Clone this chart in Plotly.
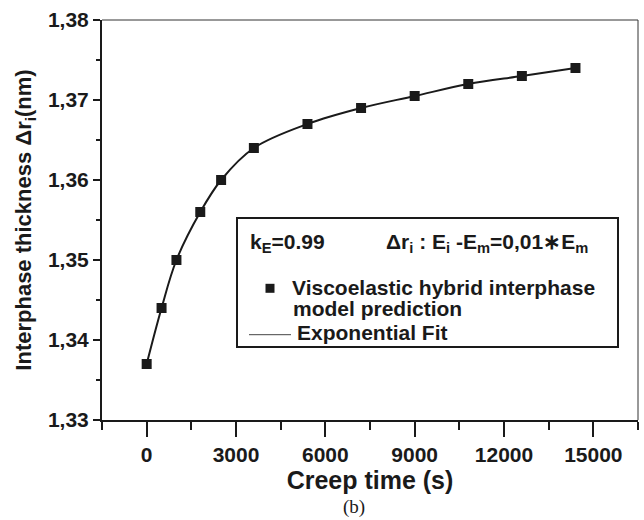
import plotly.graph_objects as go

# Data
creep_time = [0, 500, 1000, 1800, 2500, 3600, 5400, 7200, 9000, 10800, 12600, 14400]
thickness = [1.337, 1.344, 1.350, 1.356, 1.360, 1.364, 1.367, 1.369, 1.3705, 1.372, 1.373, 1.374]

x_tickvals = [0, 3000, 6000, 9000, 12000, 15000]
x_ticktext = ["0", "3000", "6000", "9000", "12000", "15000"]
y_tickvals = [1.33, 1.34, 1.35, 1.36, 1.37, 1.38]
y_ticktext = ["1,33", "1,34", "1,35", "1,36", "1,37", "1,38"]

legend_header_left = "k<sub>E</sub>=0.99"
legend_header_right = "Δr<sub>i</sub> : E<sub>i</sub> -E<sub>m</sub>=0,01∗E<sub>m</sub>"
legend_item1 = ["Viscoelastic hybrid interphase", "model prediction"]
legend_item2 = "Exponential Fit"

FONT = "Liberation Sans"
INK = "#1a1a1a"

# plot-area geometry in pixels (for placing the hand-drawn legend box)
L, R, T, B = 102, 638, 20, 420
W, H = 644, 520


def px(xp):
    return (xp - L) / (R - L)


def py(yp):
    return (B - yp) / (B - T)


fig = go.Figure()
fig.add_trace(go.Scatter(
    x=creep_time, y=thickness, mode="lines",
    line=dict(shape="spline", color=INK, width=2),
    name=legend_item2, showlegend=False,
))
fig.add_trace(go.Scatter(
    x=creep_time, y=thickness, mode="markers",
    marker=dict(symbol="square", size=10, color=INK),
    name=" ".join(legend_item1), showlegend=False,
))

lg_font = dict(family=FONT, size=21, color=INK, weight="bold")


def text_ann(text, x, y):
    return dict(text=text, xref="paper", yref="paper", x=px(x), y=py(y),
                xanchor="left", yanchor="middle", showarrow=False, font=lg_font)


annotations = [
    text_ann(legend_header_left, 248, 243),
    text_ann(legend_header_right, 384, 243),
    text_ann(legend_item1[0], 290, 287),
    text_ann(legend_item1[1], 291, 308.5),
    text_ann(legend_item2, 295, 332),
    dict(text="(b)", xref="paper", yref="paper", x=px(354), y=py(507),
         showarrow=False, xanchor="center", yanchor="middle",
         font=dict(family="Liberation Serif", size=19, color=INK)),
]

shapes = [
    # thin top / right frame lines
    dict(type="line", xref="paper", yref="paper", x0=0, x1=1, y0=1, y1=1,
         line=dict(color="#333", width=1)),
    dict(type="line", xref="paper", yref="paper", x0=1, x1=1, y0=0, y1=1,
         line=dict(color="#333", width=1)),
    # legend box
    dict(type="rect", xref="paper", yref="paper", x0=px(237), x1=px(618), y0=py(347), y1=py(218),
         line=dict(color=INK, width=2), fillcolor="rgba(0,0,0,0)"),
    # legend marker symbol
    dict(type="rect", xref="paper", yref="paper", x0=px(265.5), x1=px(274.5), y0=py(292.8), y1=py(283.8),
         line=dict(width=0), fillcolor=INK),
    # legend line symbol
    dict(type="line", xref="paper", yref="paper", x0=px(249), x1=px(291), y0=py(334.7), y1=py(334.7),
         line=dict(color="#444", width=1)),
]

fig.update_layout(
    width=W, height=H,
    margin=dict(l=L, r=W - R, t=T, b=H - B),
    paper_bgcolor="white", plot_bgcolor="white",
    font=dict(family=FONT, color=INK),
    showlegend=False,
    xaxis=dict(
        range=[-1500, 16500], showgrid=False, zeroline=False,
        tickvals=x_tickvals, ticktext=x_ticktext,
        ticks="outside", ticklen=15, tickwidth=2, tickcolor=INK,
        minor=dict(dtick=1500, tick0=0, ticks="outside", ticklen=8, tickwidth=2, tickcolor=INK),
        showline=True, linewidth=2, linecolor=INK,
        tickfont=dict(family=FONT, size=21, color=INK, weight="bold"),
        title=dict(text="Creep time (s)", font=dict(family=FONT, size=25, color=INK, weight="bold"), standoff=2),
    ),
    yaxis=dict(
        range=[1.33, 1.38], showgrid=False, zeroline=False,
        tickvals=y_tickvals, ticktext=y_ticktext,
        ticks="outside", ticklen=7, tickwidth=2, tickcolor=INK,
        minor=dict(dtick=0.005, tick0=1.33, ticks="outside", ticklen=4, tickwidth=2, tickcolor=INK),
        showline=True, linewidth=2, linecolor=INK,
        tickfont=dict(family=FONT, size=21, color=INK, weight="bold"),
        title=dict(text="Interphase thickness Δr<sub>i</sub>(nm)",
                   font=dict(family=FONT, size=22, color=INK, weight="bold"), standoff=10),
    ),
    shapes=shapes,
    annotations=annotations,
)

fig.write_html("out.html")
